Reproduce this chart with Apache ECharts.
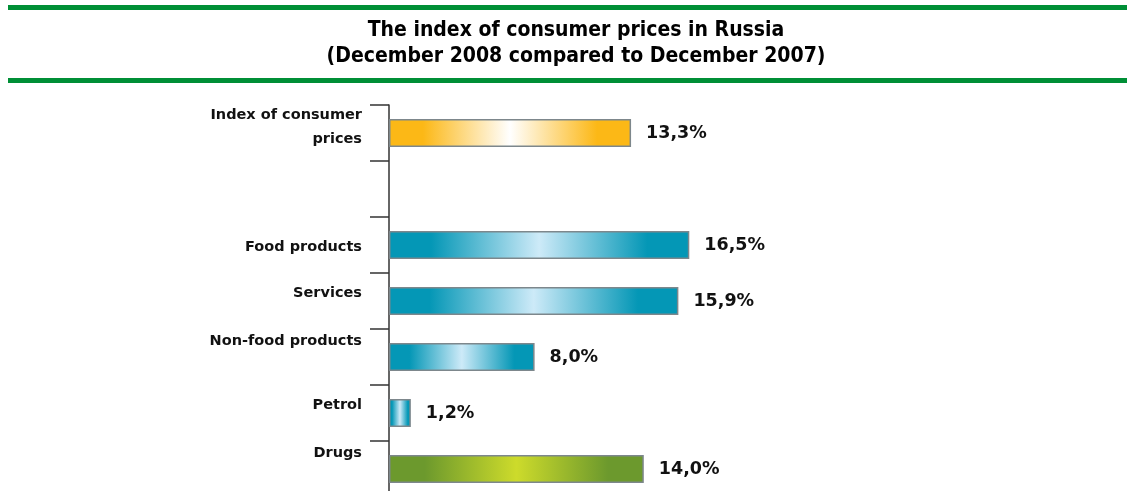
<!DOCTYPE html>
<html>
<head>
<meta charset="utf-8">
<script src="https://cdn.jsdelivr.net/npm/echarts@6/dist/echarts.min.js"></script>
<style>
  html, body { margin: 0; padding: 0; background: #ffffff; }
  #chart { width: 1127px; height: 491px; }
</style>
</head>
<body>
<div id="chart"></div>
<script>
// Categories, top to bottom (blank slot separates the overall index from its components)
const categories = ['Index of consumer\nprices', '', 'Food products', 'Services', 'Non-food products', 'Petrol', 'Drugs'];
// Price growth, % (December 2008 vs December 2007)
const values = [13.3, null, 16.5, 15.9, 8.0, 1.2, 14.0];
// Colour group of each bar
const groups = ['total', null, 'goods', 'goods', 'goods', 'goods', 'drugs'];
// Upward nudge of each category label, px
const labelLift = [6, 0, -2, 8, 16, 8, 16];

const titleLines = ['The index of consumer prices in Russia', '(December 2008 compared to December 2007)'];

function shine(edge, mid) {
  return new echarts.graphic.LinearGradient(0, 0, 1, 0, [
    { offset: 0, color: edge },
    { offset: 0.14, color: edge },
    { offset: 0.5, color: mid },
    { offset: 0.86, color: edge },
    { offset: 1, color: edge }
  ]);
}
const fills = {
  total: shine('#fcb816', '#ffffff'),
  goods: shine('#0497b6', '#cdeaf8'),
  drugs: shine('#6c992d', '#cddb2b')
};

const labelFont = {
  fontFamily: "'DejaVu Sans', sans-serif",
  fontWeight: 'bold',
  fontSize: 14.5,
  lineHeight: 24,
  color: '#111111'
};

// one rich style per category, shifting the label vertically by padding
const rich = {};
labelLift.forEach((d, i) => {
  rich['l' + i] = Object.assign({}, labelFont, {
    padding: d >= 0 ? [0, 0, d * 2, 0] : [-d * 2, 0, 0, 0]
  });
});

const chart = echarts.init(document.getElementById('chart'), null, { renderer: 'canvas' });

chart.setOption({
  animation: false,
  backgroundColor: '#ffffff',
  title: {
    text: titleLines.join('\n'),
    left: 571,
    top: 13,
    textAlign: 'center',
    textStyle: {
      fontFamily: "'Liberation Sans Narrow', 'DejaVu Sans Condensed', sans-serif",
      fontWeight: 'bold',
      fontSize: 21,
      lineHeight: 26,
      color: '#000000'
    }
  },
  graphic: [
    { type: 'rect', shape: { x: 8, y: 5, width: 1119, height: 5 }, style: { fill: '#008f36' } },
    { type: 'rect', shape: { x: 8, y: 78, width: 1119, height: 5 }, style: { fill: '#008f36' } }
  ],
  grid: { left: 389, top: 105, width: 546, height: 392, outerBoundsMode: 'none', containLabel: false },
  xAxis: {
    type: 'value',
    min: 0,
    max: 30,
    show: false
  },
  yAxis: {
    type: 'category',
    inverse: true,
    data: categories,
    axisLine: { show: true, lineStyle: { color: '#333333', width: 1.5 } },
    axisTick: { show: true, alignWithLabel: false, interval: 0, length: 19, lineStyle: { color: '#333333', width: 1.5 } },
    axisLabel: Object.assign({}, labelFont, {
      interval: 0,
      margin: 27,
      formatter: (v, i) => v === '' ? '' : v.split('\n').map(s => '{l' + i + '|' + s + '}').join('\n'),
      rich: rich
    }),
    splitLine: { show: false }
  },
  series: [{
    type: 'bar',
    barWidth: 28,
    data: values.map((v, i) => v === null ? null : {
      value: v,
      itemStyle: { color: fills[groups[i]] }
    }),
    itemStyle: { borderColor: '#7d878c', borderWidth: 1.5 },
    label: {
      show: true,
      position: 'right',
      distance: 15,
      fontFamily: "'DejaVu Sans', sans-serif",
      fontWeight: 'bold',
      fontSize: 17.5,
      color: '#111111',
      formatter: p => p.value.toFixed(1).replace('.', ',') + '%'
    }
  }]
});
</script>
</body>
</html>
